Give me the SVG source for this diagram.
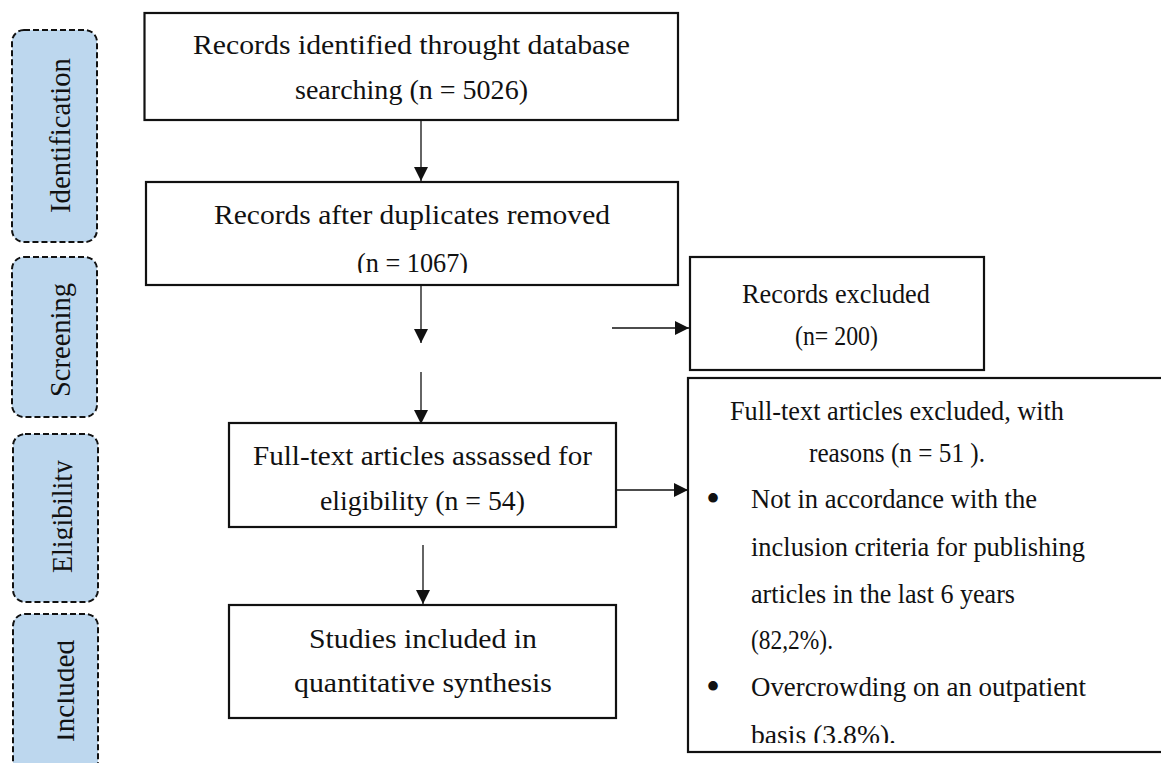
<svg xmlns="http://www.w3.org/2000/svg" width="1161" height="763" viewBox="0 0 1161 763">
<style>
.box{fill:#fff;stroke:#111;stroke-width:2.2}
.stage{fill:#bdd7ee;stroke:#111;stroke-width:2;stroke-dasharray:6 3}
.t{font-family:"Liberation Serif","Times New Roman",serif;font-size:28px;fill:#111}
.b{font-family:"Liberation Serif","Times New Roman",serif;font-size:40px;fill:#111}
.s{font-family:"Liberation Serif","Times New Roman",serif;font-size:29px;fill:#111}
.c{fill:none;stroke:#111;stroke-width:1.3}
</style>
<defs>
<marker id="ah" viewBox="0 0 10 10" refX="10" refY="5" markerWidth="14" markerHeight="14" markerUnits="userSpaceOnUse" orient="auto">
<path d="M0,0 L10,5 L0,10 Z" fill="#111"/>
</marker>
<clipPath id="clipB2"><rect x="140" y="180" width="540" height="93"/></clipPath>
<clipPath id="clipBig"><rect x="688" y="378" width="480" height="365"/></clipPath>
<clipPath id="clipElig"><rect x="0" y="430" width="72.5" height="180"/></clipPath>
<clipPath id="clipIncl"><rect x="57.5" y="610" width="60" height="160"/></clipPath>
</defs>

<g id="stage-identification">
<rect class="stage" x="12" y="30" width="85" height="212" rx="12"/>
<text class="s" transform="translate(70,213) rotate(-90)" textLength="155" lengthAdjust="spacingAndGlyphs">Identification</text>
</g>
<g id="stage-screening">
<rect class="stage" x="12" y="257" width="85" height="160" rx="12"/>
<text class="s" transform="translate(70,397) rotate(-90)" textLength="114" lengthAdjust="spacingAndGlyphs">Screening</text>
</g>
<g id="stage-eligibility">
<rect class="stage" x="13" y="434" width="85" height="168" rx="12"/>
<g clip-path="url(#clipElig)">
<text class="s" transform="translate(72,573) rotate(-90)" textLength="113" lengthAdjust="spacingAndGlyphs">Eligibility</text>
</g>
</g>
<g id="stage-included">
<rect class="stage" x="13" y="614" width="85" height="160" rx="12"/>
<g clip-path="url(#clipIncl)">
<text class="s" transform="translate(74,742) rotate(-90)" textLength="102" lengthAdjust="spacingAndGlyphs">Included</text>
</g>
</g>

<g id="node-identified">
<rect class="box" x="144.5" y="13" width="533.5" height="107"/>
<text class="t" x="193" y="54" textLength="437" lengthAdjust="spacingAndGlyphs">Records identified throught database</text>
<text class="t" x="295" y="99" textLength="233" lengthAdjust="spacingAndGlyphs">searching (n = 5026)</text>
</g>

<g id="node-duplicates">
<rect class="box" x="146" y="182" width="532" height="103"/>
<g clip-path="url(#clipB2)">
<text class="t" x="214" y="224" textLength="396" lengthAdjust="spacingAndGlyphs">Records after duplicates removed</text>
<text class="t" x="357" y="272" textLength="111" lengthAdjust="spacingAndGlyphs">(n = 1067)</text>
</g>
</g>

<g id="node-records-excluded">
<rect class="box" x="690" y="257" width="294" height="113"/>
<text class="t" x="742" y="303" textLength="188" lengthAdjust="spacingAndGlyphs">Records excluded</text>
<text class="t" x="795" y="345" textLength="83" lengthAdjust="spacingAndGlyphs">(n= 200)</text>
</g>

<g id="node-fulltext">
<rect class="box" x="229" y="423" width="387" height="104"/>
<text class="t" x="253" y="465" textLength="339" lengthAdjust="spacingAndGlyphs">Full-text articles assassed for</text>
<text class="t" x="320" y="510" textLength="205" lengthAdjust="spacingAndGlyphs">eligibility (n = 54)</text>
</g>

<g id="node-fulltext-excluded">
<rect class="box" x="688" y="378" width="490" height="374"/>
<g clip-path="url(#clipBig)">
<text class="t" x="730" y="420" textLength="334" lengthAdjust="spacingAndGlyphs">Full-text articles excluded, with</text>
<text class="t" x="809" y="462" textLength="176" lengthAdjust="spacingAndGlyphs">reasons (n = 51 ).</text>
<text class="b" x="706" y="512">•</text>
<text class="t" x="751" y="508" textLength="286" lengthAdjust="spacingAndGlyphs">Not in accordance with the</text>
<text class="t" x="751" y="556" textLength="334" lengthAdjust="spacingAndGlyphs">inclusion criteria for publishing</text>
<text class="t" x="751" y="603" textLength="264" lengthAdjust="spacingAndGlyphs">articles in the last 6 years</text>
<text class="t" x="751" y="649" textLength="82" lengthAdjust="spacingAndGlyphs">(82,2%).</text>
<text class="b" x="706" y="700">•</text>
<text class="t" x="751" y="696" textLength="335" lengthAdjust="spacingAndGlyphs">Overcrowding on an outpatient</text>
<text class="t" x="751" y="744" textLength="145" lengthAdjust="spacingAndGlyphs">basis (3.8%).</text>
</g>
</g>

<g id="node-included">
<rect class="box" x="229" y="605" width="387" height="113"/>
<text class="t" x="309" y="648" textLength="228" lengthAdjust="spacingAndGlyphs">Studies included in</text>
<text class="t" x="294" y="692" textLength="258" lengthAdjust="spacingAndGlyphs">quantitative synthesis</text>
</g>

<g id="connectors">
<line class="c" x1="421" y1="120" x2="421" y2="181" marker-end="url(#ah)"/>
<line class="c" x1="421" y1="285" x2="421" y2="343" marker-end="url(#ah)"/>
<line class="c" x1="421" y1="372" x2="421" y2="424" marker-end="url(#ah)"/>
<line class="c" x1="423" y1="545" x2="423" y2="604" marker-end="url(#ah)"/>
<line class="c" x1="612" y1="328" x2="689" y2="328" marker-end="url(#ah)"/>
<line class="c" x1="616" y1="490" x2="688" y2="490" marker-end="url(#ah)"/>
</g>
</svg>
